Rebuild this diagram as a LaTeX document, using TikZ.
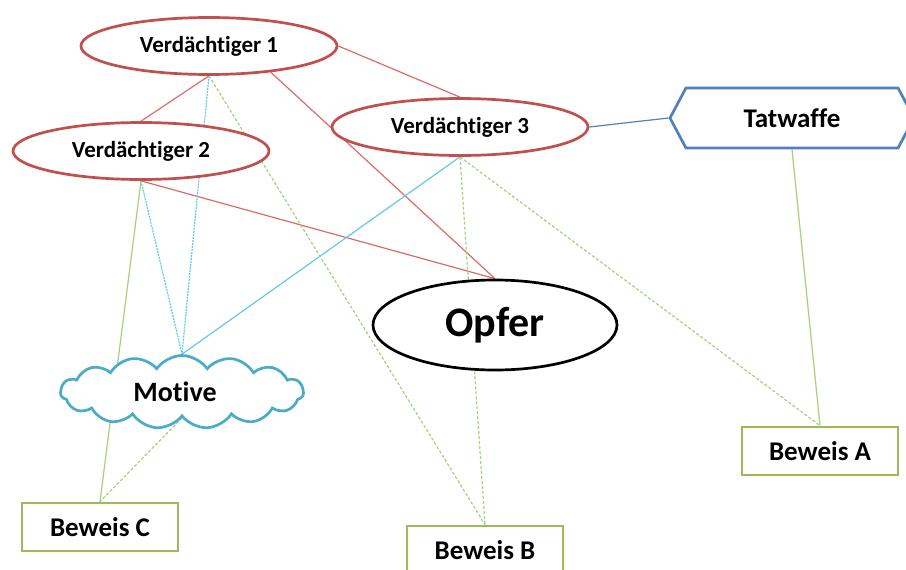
\documentclass[tikz,border=0pt]{standalone}
\usepackage{fontspec}
\setmainfont{Carlito}[RawFeature={-liga;-clig;-calt;-dlig}]
\usetikzlibrary{backgrounds,shapes.geometric,shapes.symbols}
\definecolor{suspred}{HTML}{C0504D}
\definecolor{linered}{HTML}{DC6A68}
\definecolor{motblue}{HTML}{4BACC6}
\definecolor{motline}{HTML}{62C8F0}
\definecolor{weapblue}{HTML}{4F81BD}
\definecolor{proofgreen}{HTML}{9BBB59}
\definecolor{linegreen}{HTML}{A6D07A}

\begin{document}
\begin{tikzpicture}[x=1pt,y=-1pt]
      \tikzstyle{suspect}=[ellipse,draw=suspred,line width=2.7pt,fill=white,%
        minimum width=256pt,minimum height=57pt,inner sep=0pt,%
        font=\fontsize{23}{26}\selectfont\bfseries]
      \tikzstyle{victim}=[ellipse,draw=black,line width=2.7pt,fill=white,%
        minimum width=244pt,minimum height=90pt,inner sep=0pt,%
        font=\fontsize{42}{46}\selectfont\bfseries]
      \tikzstyle{weapon}=[signal,signal to=west and east,signal pointer angle=124,%
        draw=weapblue,line width=2.7pt,fill=white,minimum width=244pt,%
        minimum height=60pt,inner sep=0pt,font=\fontsize{27}{30}\selectfont\bfseries]
      \tikzstyle{motive}=[cloud,cloud puffs=15,cloud puff arc=110,aspect=3.3,%
        draw=motblue,line width=2.7pt,fill=white,minimum width=243pt,%
        minimum height=73pt,inner sep=0pt,text depth=0pt,%
        font=\fontsize{28}{30}\selectfont\bfseries]
      \tikzstyle{proof}=[rectangle,draw=proofgreen,line width=2.7pt,fill=white,%
        minimum width=156pt,minimum height=48pt,inner sep=0pt,%
        font=\fontsize{27}{30}\selectfont\bfseries]
      \tikzstyle{redlink}=[draw=linered,line width=1.2pt]
      \tikzstyle{bluelink}=[draw=motline,line width=1.2pt]
      \tikzstyle{bluedot}=[draw=motline,line width=1.2pt,dash pattern=on 2pt off 1pt]
      \tikzstyle{greenlink}=[draw=linegreen,line width=1.2pt]
      \tikzstyle{greendash}=[draw=linegreen,line width=1.2pt,dash pattern=on 3pt off 2pt]

      \useasboundingbox (0,0) rectangle (906,570);

      \node[suspect] (V1) at (209,46) {Verdächtiger 1};
      \node[suspect] (V2) at (141,151) {Verdächtiger 2};
      \node[suspect] (V3) at (460,127) {Verdächtiger 3};
      \node[victim] (Opfer) at (495,325) {Opfer};
      \node[weapon] (Tatwaffe) at (792,118) {Tatwaffe};
      \node[motive] (Motive) at (182,392) {\hspace*{-14pt}Motive};
      \node[proof] (BewA) at (820,451) {Beweis A};
      \node[proof] (BewB) at (485,550) {Beweis B};
      \node[proof] (BewC) at (100,527) {Beweis C};

      \begin{scope}[on background layer]
      \path [redlink] (V1.east) edge (V3.north);
      \path [redlink] (V1.south) edge (V2.north);
      \path [redlink] (V1.-23) edge (Opfer.north);
      \path [redlink] (V2.south) edge (Opfer.north);

      \path [bluedot] (V1.south) edge (Motive.north);
      \path [bluedot] (V2.south) edge (Motive.north);
      \path [bluelink] (V3.south) edge (Motive.north);
      \path [draw=weapblue,line width=1.2pt] (V3.east) edge (Tatwaffe.west);

      \path [greenlink] (V2.south) edge (BewC.north);
      \path [greenlink] (Tatwaffe.south) edge (BewA.north);
      \path [greendash] (V1.south) edge (BewB.north);
      \path [greendash] (V3.south) edge (BewB.north);
      \path [greendash] (V3.south) edge (BewA.north);
      \path [greendash] (Motive.south) edge (BewC.north);
      \end{scope}
    \end{tikzpicture}
\end{document}
